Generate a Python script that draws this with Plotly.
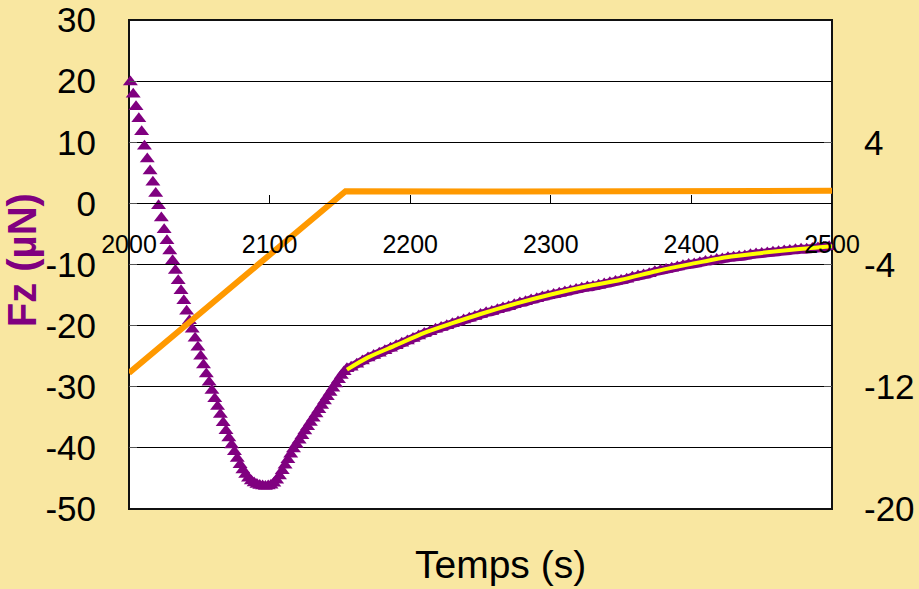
import plotly.graph_objects as go

# Fz (µN) force signal, purple triangles (left axis)
fz_fast = [19.85, 17.85, 15.8, 13.85, 11.7, 9.35, 7.25, 5.3, 3.45, 1.6,
           -0.4, -2.4, -4.3, -6.1, -7.8, -9.4, -11.0, -12.65, -14.3, -15.95,
           -17.65, -19.2, -20.6, -22.05, -23.55, -25.0, -26.45, -27.9, -29.25, -30.6,
           -31.95, -33.25, -34.55, -35.9, -37.2, -38.4, -39.55, -40.65, -41.75, -42.75,
           -43.6, -44.35, -44.95, -45.4, -45.75, -46.0, -46.15, -46.25, -46.3, -46.25,
           -46.1, -45.8, -45.3, -44.6, -43.75, -42.85, -41.95, -41.05, -40.2, -39.45,
           -38.75, -38.0, -37.25, -36.55, -35.85, -35.15, -34.45, -33.75, -33.05, -32.35,
           -31.65, -30.95, -30.25, -29.55, -28.85, -28.15, -27.55, -27.05]
t_fast = list(range(2001, 2001 + 2 * len(fz_fast), 2))
fz_slow = [-26.8, -26.3, -25.8, -25.3, -24.9, -24.5, -24.1, -23.7, -23.3, -22.9,
           -22.5, -22.1, -21.7, -21.3, -21.0, -20.6, -20.3, -20.0, -19.7, -19.4,
           -19.1, -18.8, -18.5, -18.2, -17.9, -17.7, -17.4, -17.1, -16.9, -16.6,
           -16.3, -16.1, -15.8, -15.6, -15.3, -15.1, -14.9, -14.7, -14.5, -14.3,
           -14.1, -13.9, -13.7, -13.6, -13.4, -13.2, -13.0, -12.8, -12.6, -12.4,
           -12.1, -11.9, -11.7, -11.5, -11.2, -11.0, -10.8, -10.6, -10.4, -10.2,
           -10.0, -9.9, -9.7, -9.5, -9.4, -9.2, -9.1, -8.9, -8.8, -8.7,
           -8.6, -8.4, -8.3, -8.2, -8.1, -8.0, -7.9, -7.8, -7.7, -7.6,
           -7.5, -7.5, -7.4, -7.3, -7.2, -7.1]
t_slow = list(range(2158, 2158 + 4 * len(fz_slow), 4))

# fitted relaxation curve (yellow, left axis)
t_fit = [2155, 2170, 2190, 2210, 2230, 2250, 2275, 2300, 2325, 2350,
         2375, 2400, 2425, 2450, 2475, 2500]
fz_fit = [-27.2, -25.2, -23.2, -21.2, -19.6, -18.1, -16.4, -14.9, -13.6, -12.5,
          -11.1, -9.9, -8.8, -8.1, -7.5, -7.0]

# piezo displacement (orange, right axis)
t_disp = [2000, 2154, 2250, 2350, 2450, 2500]
disp = [-11.1, 0.8, 0.78, 0.8, 0.82, 0.82]

left_ticks = [-50, -40, -30, -20, -10, 0, 10, 20, 30]
right_ticks = [-20, -12, -4, 4]
x_ticks = [2000, 2100, 2200, 2300, 2400, 2500]

FONT = "Liberation Sans, Arial, sans-serif"
PURPLE = "#800080"

fig = go.Figure()
# dense tail of the Fz series: overlapping triangles form a solid band
fig.add_trace(go.Scatter(
    x=[t_fast[-1]] + t_slow, y=[fz_fast[-1]] + fz_slow, mode="lines",
    line=dict(color=PURPLE, width=9, shape="spline", smoothing=0.6),
    showlegend=False, hoverinfo="skip"))
fig.add_trace(go.Scatter(
    x=t_fast + t_slow, y=fz_fast + fz_slow, mode="markers",
    marker=dict(symbol="triangle-up", size=13, color=PURPLE, line=dict(width=0)),
    cliponaxis=False, showlegend=False))
fig.add_trace(go.Scatter(
    x=t_fit, y=fz_fit, mode="lines",
    line=dict(color="#FFFF00", width=4, shape="spline", smoothing=0.8),
    showlegend=False))
fig.add_trace(go.Scatter(
    x=t_disp, y=disp, mode="lines", yaxis="y2",
    line=dict(color="#FF9900", width=6), cliponaxis=False, showlegend=False))

fig.update_layout(
    width=919, height=589,
    margin=dict(l=129, r=87, t=20, b=80, autoexpand=False),
    paper_bgcolor="#F9E7A1", plot_bgcolor="#FFFFFF",
    font=dict(family=FONT, color="#000000"),
    xaxis=dict(range=[2000, 2500], tickvals=x_ticks, ticktext=[str(v) for v in x_ticks],
               showgrid=False, zeroline=False, showline=True, linecolor="#000000",
               linewidth=1, anchor="free", position=0.625, side="bottom",
               ticks="inside", ticklen=8, tickcolor="#000000", automargin=False,
               ticklabelstandoff=19, tickfont=dict(size=25, family=FONT)),
    yaxis=dict(range=[-50, 30], tickvals=left_ticks, ticktext=[str(v) for v in left_ticks],
               showgrid=True, automargin=False,
               gridcolor="#000000", gridwidth=1, zeroline=False, showline=False,
               ticks="inside", ticklen=8, tickcolor="#555555",
               ticklabelstandoff=32, tickfont=dict(size=35, family=FONT)),
    yaxis2=dict(range=[-20, 12], tickvals=right_ticks, ticktext=[str(v) for v in right_ticks],
                overlaying="y", side="right", automargin=False,
                showgrid=False, zeroline=False, showline=False,
                ticks="inside", ticklen=8, tickcolor="#555555",
                ticklabelstandoff=31, tickfont=dict(size=35, family=FONT)),
    shapes=[dict(type="rect", xref="paper", yref="paper", x0=0, x1=1, y0=0, y1=1,
                 line=dict(color="#111111", width=2), layer="between")],
    annotations=[
        dict(text="Temps (s)", xref="paper", yref="paper", x=0.529, y=-0.1145,
             xanchor="center", yanchor="middle", showarrow=False,
             font=dict(size=39, family=FONT, color="#000000")),
        dict(text="<b>Fz (µN)</b>", xref="paper", yref="paper", x=-0.152, y=0.509,
             xanchor="center", yanchor="middle", textangle=-90, showarrow=False,
             font=dict(size=40, family=FONT, color=PURPLE)),
    ],
)

fig.write_html("out.html")
